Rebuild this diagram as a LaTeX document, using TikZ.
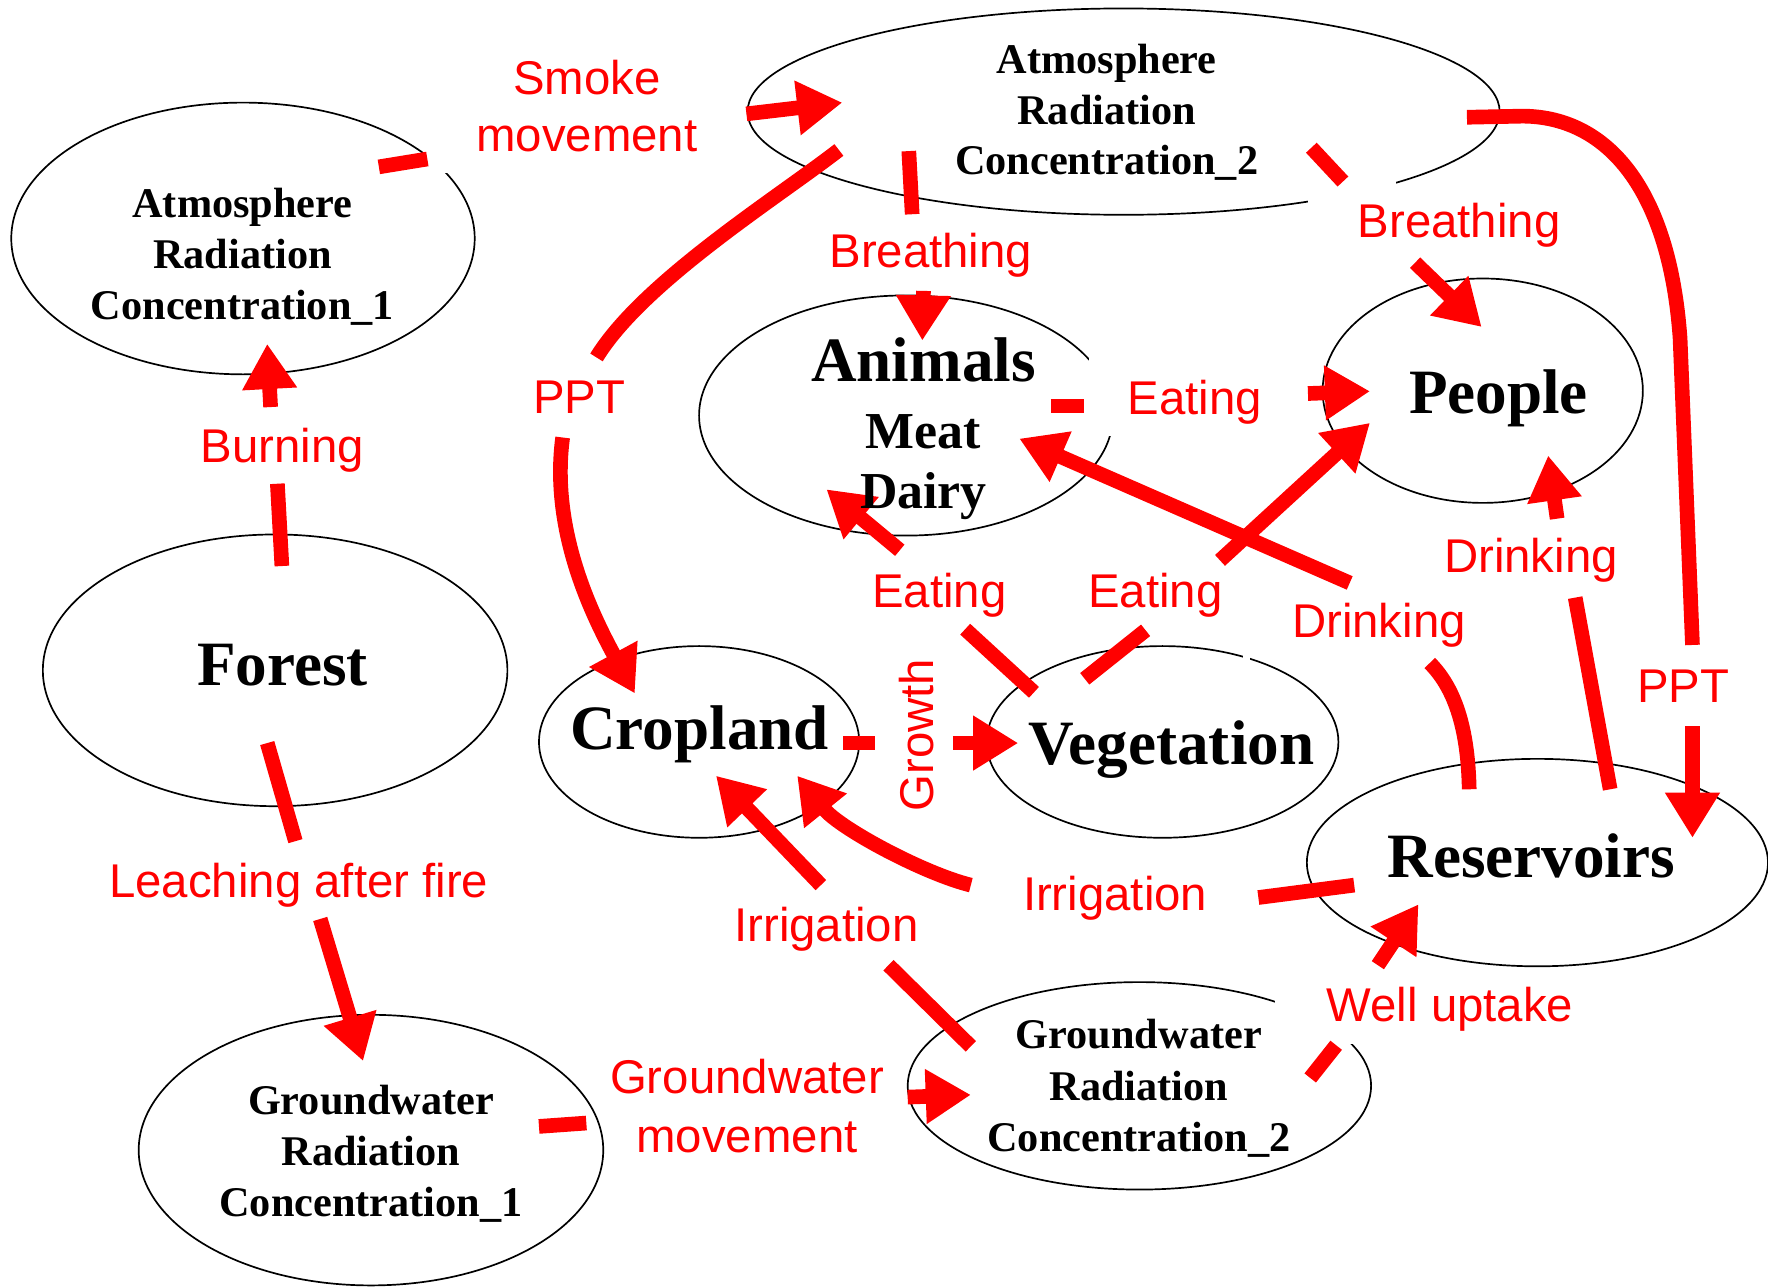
\documentclass[tikz,border=0pt]{standalone}
\usepackage{fontspec}
\setmainfont{Liberation Serif}
\newfontfamily\lblfont{Liberation Sans}
\usetikzlibrary{arrows.meta,shapes.geometric}
\begin{document}
\begin{tikzpicture}[x=1pt,y=-1pt,
  ell/.style={draw=black,line width=1.5pt,ellipse,inner sep=0pt,outer sep=0pt},
  lbl/.style={text=red,font=\lblfont\fontsize{42}{50}\selectfont,inner sep=0pt,anchor=base},
  bigt/.style={font=\bfseries\fontsize{56}{60}\selectfont,inner sep=0pt,anchor=base},
  midt/.style={font=\bfseries\fontsize{46}{50}\selectfont,inner sep=0pt,anchor=base},
  smt/.style={font=\bfseries\fontsize{37.5}{45}\selectfont,inner sep=0pt,anchor=base},
  flow/.style={draw=red,line width=13pt},
  flowarr/.style={flow,-{Triangle[length=40pt,width=46pt]}},
  gap/.style={fill=white}
]
\useasboundingbox[fill=white] (0,0) rectangle (1568,1142);

% ---------- ellipses ----------
\node[ell,minimum width=411,minimum height=241] (atm1) at (215.5,211.5) {};
\node[ell,minimum width=667,minimum height=183] (atm2) at (996.5,99) {};
\node[ell,minimum width=412,minimum height=241] (forest) at (244,594.5) {};
\node[ell,minimum width=367,minimum height=213] (animals) at (803.5,368.5) {};
\node[ell,minimum width=284,minimum height=199] (people) at (1315,346.5) {};
\node[ell,minimum width=284,minimum height=170] (crop) at (620,658) {};
\node[ell,minimum width=312,minimum height=170] (veg) at (1031,658) {};
\node[ell,minimum width=409,minimum height=184] (res) at (1363.5,765) {};
\node[ell,minimum width=412,minimum height=240] (gw1) at (329,1020) {};
\node[ell,minimum width=411,minimum height=184] (gw2) at (1010.5,963) {};

% ---------- gaps left by label boxes ----------
\fill[gap] (378,120) rectangle (400,153);
\fill[gap] (1160,159) rectangle (1238,200);
\fill[gap] (966,316) rectangle (1000,387);
\fill[gap] (1102,572) rectangle (1109,592);
\fill[gap] (1131,880) rectangle (1225,926);

% ---------- connector end points ----------
\coordinate (sm-a) at (336,148);  \coordinate (sm-b) at (379,141);
\coordinate (sm-c) at (662,101);  \coordinate (sm-d) at (747,91);
\coordinate (bu-a) at (250,502);  \coordinate (bu-b) at (246,429);
\coordinate (bu-c) at (240,361);  \coordinate (bu-d) at (237,305);
\coordinate (le-a) at (237,659);  \coordinate (le-b) at (262,746);
\coordinate (le-c) at (284,815);  \coordinate (le-d) at (322,941);
\coordinate (gm-a) at (478,999);  \coordinate (gm-b) at (520,996);
\coordinate (gm-c) at (805,973);  \coordinate (gm-d) at (861,971);
\coordinate (pl-a) at (744,133);  \coordinate (pl-b) at (529,317);
\coordinate (pl-c) at (499,388);  \coordinate (pl-d) at (563,615);
\coordinate (bl-a) at (806,134);  \coordinate (bl-b) at (809,190);
\coordinate (bl-c) at (819,258);  \coordinate (bl-d) at (818,302);
\coordinate (br-a) at (1163,131); \coordinate (br-b) at (1191,161);
\coordinate (br-c) at (1255,233); \coordinate (br-d) at (1314,290);
\coordinate (pr-a) at (1301,104); \coordinate (pr-b) at (1501,572);
\coordinate (pr-c) at (1501,644); \coordinate (pr-d) at (1501,743);
\coordinate (ea-a) at (932,360);  \coordinate (ea-b) at (961,360);
\coordinate (ea-c) at (1160,349); \coordinate (ea-d) at (1215,347);
\coordinate (dm-a) at (1303,700); \coordinate (dm-b) at (1268,588);
\coordinate (dm-c) at (1197,517); \coordinate (dm-d) at (904,389);
\coordinate (dp-a) at (1428,700); \coordinate (dp-b) at (1397,530);
\coordinate (dp-c) at (1381,460); \coordinate (dp-d) at (1373,404);
\coordinate (ev-a) at (962,602);  \coordinate (ev-b) at (1016,559);
\coordinate (ev-c) at (1082,497); \coordinate (ev-d) at (1215,375);
\coordinate (eA-a) at (917,614);  \coordinate (eA-b) at (856,558);
\coordinate (eA-c) at (798,488);  \coordinate (eA-d) at (733,434);
\coordinate (gr-a) at (748,659);  \coordinate (gr-b) at (776,659);
\coordinate (gr-c) at (845,659);  \coordinate (gr-d) at (903,659);
\coordinate (ir-a) at (1201,785); \coordinate (ir-b) at (1116,796);
\coordinate (ir-c) at (861,785);  \coordinate (ir-d) at (707,688);
\coordinate (ig-a) at (861,928);  \coordinate (ig-b) at (788,856);
\coordinate (ig-c) at (728,785);  \coordinate (ig-d) at (635,688);
\coordinate (wu-a) at (1162,956); \coordinate (wu-b) at (1185,927);
\coordinate (wu-c) at (1222,856); \coordinate (wu-d) at (1258,802);

% ---------- connectors ----------
\draw[flow] (sm-a) -- (sm-b);  \draw[flowarr] (sm-c) -- (sm-d);
\draw[flow] (bu-a) -- (bu-b);  \draw[flowarr] (bu-c) -- (bu-d);
\draw[flow] (le-a) -- (le-b);  \draw[flowarr] (le-c) -- (le-d);
\draw[flow] (gm-a) -- (gm-b);  \draw[flowarr] (gm-c) -- (gm-d);
\draw[flow] (pl-a) .. controls (690,175) and (570,250) .. (pl-b);
\draw[flowarr] (pl-c) .. controls (488,470) and (525,545) .. (pl-d);
\draw[flow] (bl-a) -- (bl-b);  \draw[flowarr] (bl-c) -- (bl-d);
\draw[flow] (br-a) -- (br-b);  \draw[flowarr] (br-c) -- (br-d);
\draw[flow] (pr-a) -- (1350,103) .. controls (1420,103) and (1480,160) .. (1490,300) -- (pr-b);
\draw[flowarr] (pr-c) -- (pr-d);
\draw[flow] (ea-a) -- (ea-b);  \draw[flowarr] (ea-c) -- (ea-d);
\draw[flow] (dm-a) .. controls (1302,650) and (1292,612) .. (dm-b);
\draw[flowarr] (dm-c) -- (dm-d);
\draw[flow] (dp-a) -- (dp-b);  \draw[flowarr] (dp-c) -- (dp-d);
\draw[flow] (ev-a) -- (ev-b);  \draw[flowarr] (ev-c) -- (ev-d);
\draw[flow] (eA-a) -- (eA-b);  \draw[flowarr] (eA-c) -- (eA-d);
\draw[flow] (gr-a) -- (gr-b);  \draw[flowarr] (gr-c) -- (gr-d);
\draw[flow] (ir-a) -- (ir-b);
\draw[flowarr] (ir-c) .. controls (820,775) and (745,735) .. (ir-d);
\draw[flow] (ig-a) -- (ig-b);  \draw[flowarr] (ig-c) -- (ig-d);
\draw[flow] (wu-a) -- (wu-b);  \draw[flowarr] (wu-c) -- (wu-d);

% ---------- connector labels ----------
\node[lbl] (t-smoke1) at (520.5,84) {Smoke};
\node[lbl] (t-smoke2) at (520.5,134.6) {movement};
\node[lbl] (t-burn) at (250.5,410) {Burning};
\node[lbl] (t-pptl) at (513.7,367) {PPT};
\node[lbl] (t-brl) at (825.5,237.6) {Breathing};
\node[lbl] (t-brr) at (1294,210.6) {Breathing};
\node[lbl] (t-eatap) at (1059.6,367.4) {Eating};
\node[lbl] (t-leach) at (265,795.6) {Leaching after fire};
\node[lbl] (t-irrl) at (733,834.6) {Irrigation};
\node[lbl] (t-gw1) at (662.5,970) {Groundwater};
\node[lbl] (t-gw2) at (662.5,1022) {movement};
\node[lbl] (t-eatva) at (833,539) {Eating};
\node[lbl] (t-eatvp) at (1024.7,539) {Eating};
\node[lbl] (t-drm) at (1223,565.4) {Drinking};
\node[lbl] (t-drp) at (1357.8,508) {Drinking};
\node[lbl] (t-pptr) at (1492.7,622.6) {PPT};
\node[lbl,rotate=90] (t-grow) at (828,652) {Growth};
\node[lbl] (t-irrr) at (989,807.7) {Irrigation};
\node[lbl] (t-well) at (1286,906) {Well uptake};

% ---------- node texts ----------
\node[smt] (atm1-l1) at (215,193) {Atmosphere};
\node[smt] (atm1-l2) at (215,238) {Radiation};
\node[smt] (atm1-l3) at (215,283) {Concentration\_1};
\node[smt] (atm2-l1) at (981.5,65) {Atmosphere};
\node[smt] (atm2-l2) at (981.5,110) {Radiation};
\node[smt] (atm2-l3) at (981.5,155) {Concentration\_2};
\node[bigt] (forest-t) at (250.6,608) {Forest};
\node[bigt] (animals-t) at (819,338) {Animals};
\node[midt] (meat-t) at (818.5,397.5) {Meat};
\node[midt] (dairy-t) at (819,451) {Dairy};
\node[bigt] (people-t) at (1329,367) {People};
\node[bigt] (crop-t) at (620.5,665) {Cropland};
\node[bigt] (veg-t) at (1039,678) {Vegetation};
\node[bigt] (res-t) at (1358,778) {Reservoirs};
\node[smt] (gw1-l1) at (329,988) {Groundwater};
\node[smt] (gw1-l2) at (329,1033.5) {Radiation};
\node[smt] (gw1-l3) at (329,1079) {Concentration\_1};
\node[smt] (gw2-l1) at (1010,930) {Groundwater};
\node[smt] (gw2-l2) at (1010,975.8) {Radiation};
\node[smt] (gw2-l3) at (1010,1021.4) {Concentration\_2};
\end{tikzpicture}
\end{document}
